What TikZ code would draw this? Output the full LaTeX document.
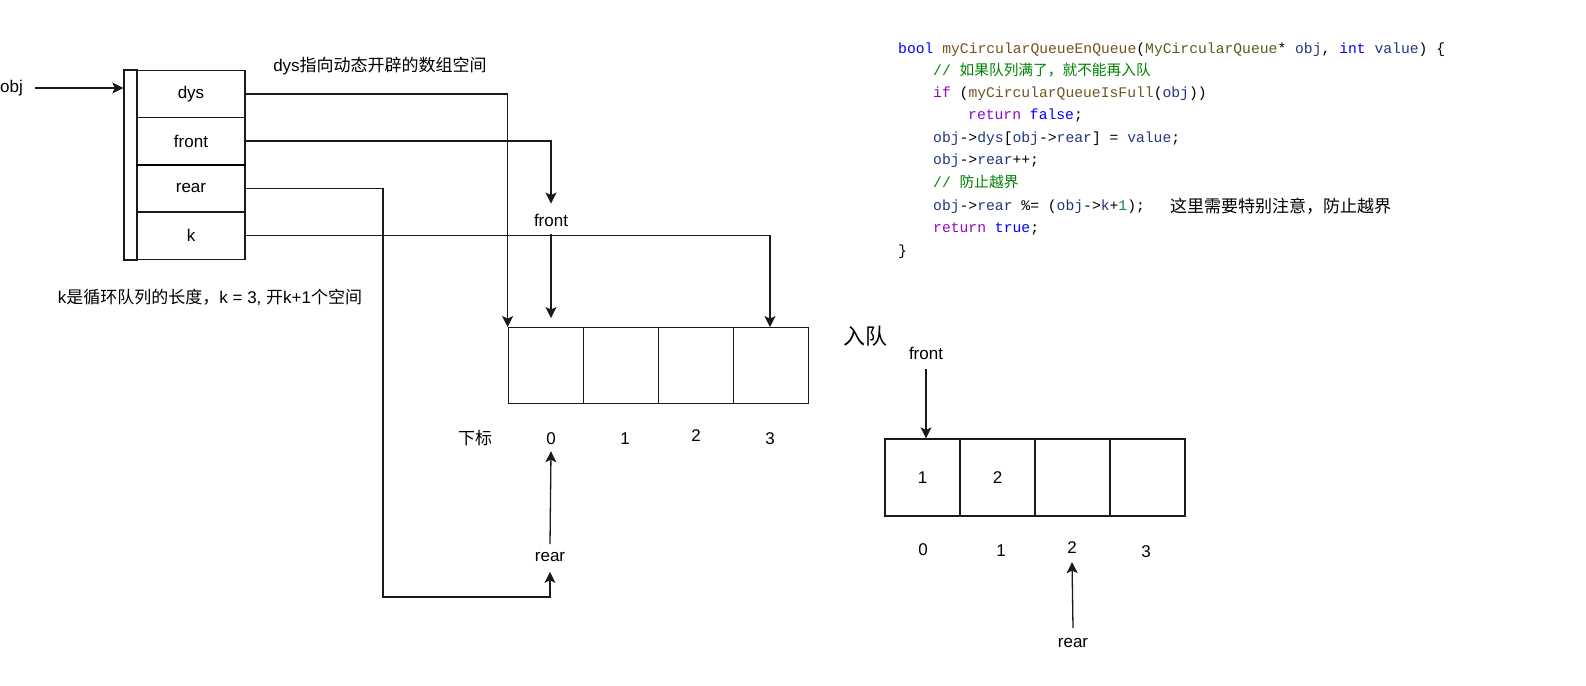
\documentclass[tikz,border=0pt]{standalone}
\usepackage{fontspec}
\setmainfont{Liberation Sans}
\newfontfamily\cjk{Noto Sans CJK SC}
\newfontfamily\codefont{Liberation Mono}
\usetikzlibrary{arrows.meta}
\definecolor{kwblue}{HTML}{0000FF}
\definecolor{ctrlc}{HTML}{8F08C4}
\definecolor{funcc}{HTML}{74531F}
\definecolor{typec}{HTML}{5B5B1F}
\definecolor{varc}{HTML}{1F377F}
\definecolor{cmtc}{HTML}{008000}
\definecolor{numc}{HTML}{098658}
\definecolor{linec}{HTML}{1A1A1A}
\newcommand\ckw[1]{\textcolor{kwblue}{#1}}
\newcommand\cct[1]{\textcolor{ctrlc}{#1}}
\newcommand\cfn[1]{\textcolor{funcc}{#1}}
\newcommand\cty[1]{\textcolor{typec}{#1}}
\newcommand\cva[1]{\textcolor{varc}{#1}}
\newcommand\ccm[1]{\textcolor{cmtc}{#1}}
\newcommand\cnm[1]{\textcolor{numc}{#1}}
\newcommand\lblfont{\fontsize{17}{20}\selectfont}
\tikzset{
  lbl/.style={font=\lblfont, inner sep=0pt},
  cell/.style={draw=linec, line width=1.3pt, minimum width=75pt, minimum height=75.6pt, inner sep=0pt, font=\lblfont},
  row/.style={draw=linec, line width=1.3pt, minimum width=108pt, minimum height=47.3pt, inner sep=0pt, font=\lblfont},
  arr/.style={draw=linec, line width=1.3pt, -{Stealth[length=11pt,width=11pt,inset=2.5pt]}},
  codeline/.style={anchor=west, inner sep=0pt, font=\fontsize{14.7}{17}\codefont, text height=11pt, text depth=3pt},
}
\begin{document}
\begin{tikzpicture}[x=1pt, y=-1pt]
\useasboundingbox (0,0) rectangle (1586,685);

% struct
\node[draw=linec, line width=1.3pt, minimum width=13pt, minimum height=190pt, inner sep=0pt] (strip) at (130.5,165) {};
\node[row] (dys) at (191,93.9) {dys};
\node[row] (front) at (191,141) {front};
\node[row] (rear) at (191,188.3) {rear};
\node[row] (k) at (191,235.6) {k};
\draw[line width=2.2pt] (front.south west) -- (front.south east);

\node[lbl, anchor=west] (obj) at (0,88) {obj};
\coordinate (objtail) at (35,88);
\draw[arr] (objtail) -- (objtail -| strip.west);

\node[lbl] (dysnote) at (380,66) {dys{\cjk 指向动态开辟的数组空间}};
\node[lbl] (knote) at (210,297) {k{\cjk 是循环队列的长度，}k = 3, {\cjk 开}k+1{\cjk 个空间}};

% array 1
\node[cell] (a0) at (545.8,365.5) {};
\node[cell] (a1) at (620.8,365.5) {};
\node[cell] (a2) at (695.8,365.5) {};
\node[cell] (a3) at (770.8,365.5) {};

\node[lbl] (xb) at (475,438) {\cjk 下标};
\node[lbl] (i0) at (551,439) {0};
\node[lbl] (i1) at (625,439) {1};
\node[lbl] (i2) at (696,436) {2};
\node[lbl] (i3) at (770,439) {3};

\node[lbl] (flabel) at (551,220) {front};
\node[lbl] (rlabel) at (550,557) {rear};

\draw[arr] (dys.east) -| (a0.north west);
\draw[arr] (front.east) -| ([yshift=10pt]flabel.north);
\draw[arr] ([yshift=-8pt]flabel.south) -- ([yshift=9pt]flabel |- a0.north);
\draw[arr] (k.east) -| (a3.north -| i3);
\coordinate (rc) at (383,597);
\draw[arr] (rear.east) -| (rc) -| ([yshift=-10pt]rlabel.south);
\draw[arr] ([yshift=8pt]rlabel.north) -- ([yshift=-6pt]i0.south);

\node[lbl, font=\fontsize{22}{24}\selectfont] (rudui) at (865,336) {\cjk 入队};

% array 2
\node[cell, minimum height=77pt] (b0) at (922.5,477.5) {1};
\node[cell, minimum height=77pt] (b1) at (997.5,477.5) {2};
\node[cell, minimum height=77pt] (b2) at (1072.5,477.5) {};
\node[cell, minimum height=77pt] (b3) at (1147.5,477.5) {};

\node[lbl] (j0) at (923,550) {0};
\node[lbl] (j1) at (1001,551) {1};
\node[lbl] (j2) at (1072,548) {2};
\node[lbl] (j3) at (1146,552) {3};

\node[lbl] (flabel2) at (926,353) {front};
\node[lbl] (rlabel2) at (1073,643) {rear};
\draw[arr] ([yshift=-10pt]flabel2.south) -- (b0.north -| flabel2);
\draw[arr] ([yshift=10pt]rlabel2.north) -- ([yshift=-8pt]j2.south);

% code
\node[codeline] (c1) at (898,49) {\ckw{bool} \cfn{myCircularQueueEnQueue}(\cty{MyCircularQueue}* \cva{obj}, \ckw{int} \cva{value}) \{};
\node[codeline] (c2) at (933,71.2) {\ccm{// {\cjk 如果队列满了，就不能再入队}}};
\node[codeline] (c3) at (933,93.4) {\cct{if} (\cfn{myCircularQueueIsFull}(\cva{obj}))};
\node[codeline] (c4) at (968,115.6) {\cct{return} \ckw{false};};
\node[codeline] (c5) at (933,138.6) {\cva{obj}->\cva{dys}[\cva{obj}->\cva{rear}] = \cva{value};};
\node[codeline] (c6) at (933,160.8) {\cva{obj}->\cva{rear}++;};
\node[codeline] (c7) at (933,183) {\ccm{// {\cjk 防止越界}}};
\node[codeline] (c8) at (933,206.3) {\cva{obj}->\cva{rear} \%= (\cva{obj}->\cva{k}+\cnm{1});};
\node[codeline] (c9) at (933,228.6) {\cct{return} \ckw{true};};
\node[codeline] (c10) at (898,251) {\}};
\node[lbl, anchor=west, font=\fontsize{17}{20}\cjk] (note) at (1170,206.3) {这里需要特别注意，防止越界};
\end{tikzpicture}
\end{document}
